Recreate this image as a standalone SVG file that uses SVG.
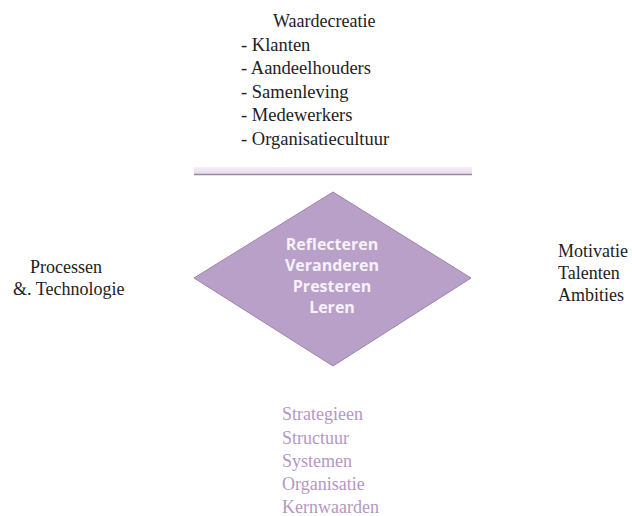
<svg xmlns="http://www.w3.org/2000/svg" width="632" height="516" viewBox="0 0 632 516">
<defs>
<style>
.t{font-family:"Liberation Serif","Times New Roman",serif;font-size:18px;fill:#222}
.l{font-size:18.5px}
.p{font-family:"Liberation Serif","Times New Roman",serif;font-size:18px;fill:#b597c4}
.d{font-family:"Open Sans","Noto Sans",sans-serif;font-size:16px;font-weight:bold;fill:#f6f2f8;text-anchor:middle}
</style>
<linearGradient id="band" x1="0" y1="0" x2="0" y2="1">
<stop offset="0" stop-color="#f6f0f8"/>
<stop offset="1" stop-color="#e6dbeb"/>
</linearGradient>
</defs>
<rect width="632" height="516" fill="#fff"/>
<g id="top">
<text class="t" x="273" y="27">Waardecreatie</text>
<text class="t l" x="241" y="50.5">- Klanten</text>
<text class="t l" x="241" y="74">- Aandeelhouders</text>
<text class="t l" x="241" y="97.5">- Samenleving</text>
<text class="t l" x="241" y="121">- Medewerkers</text>
<text class="t l" x="241" y="144.5">- Organisatiecultuur</text>
</g>
<g id="bar">
<rect x="194" y="167" width="278" height="7" fill="url(#band)"/>
<line x1="194" y1="174.5" x2="472" y2="174.5" stroke="#9a88a6" stroke-width="1.5"/>
</g>
<g id="center">
<polygon points="333,192 471,278 333,366 194,278" fill="#b9a0c9" stroke="#9c84ad" stroke-width="1"/>
<text class="d" x="332" y="249.5">Reflecteren</text>
<text class="d" x="332" y="270.5">Veranderen</text>
<text class="d" x="332" y="291.5">Presteren</text>
<text class="d" x="332" y="312.5">Leren</text>
</g>
<g id="left">
<text class="t" x="30" y="273">Processen</text>
<text class="t" x="13" y="295">&amp;. Technologie</text>
</g>
<g id="right">
<text class="t" x="558" y="257">Motivatie</text>
<text class="t" x="558" y="279">Talenten</text>
<text class="t" x="558" y="301">Ambities</text>
</g>
<g id="bottom">
<text class="p" x="282" y="420">Strategieen</text>
<text class="p" x="282" y="443.5">Structuur</text>
<text class="p" x="282" y="467">Systemen</text>
<text class="p" x="282" y="490">Organisatie</text>
<text class="p" x="282" y="513">Kernwaarden</text>
</g>
<g id="connectors"/>
</svg>
